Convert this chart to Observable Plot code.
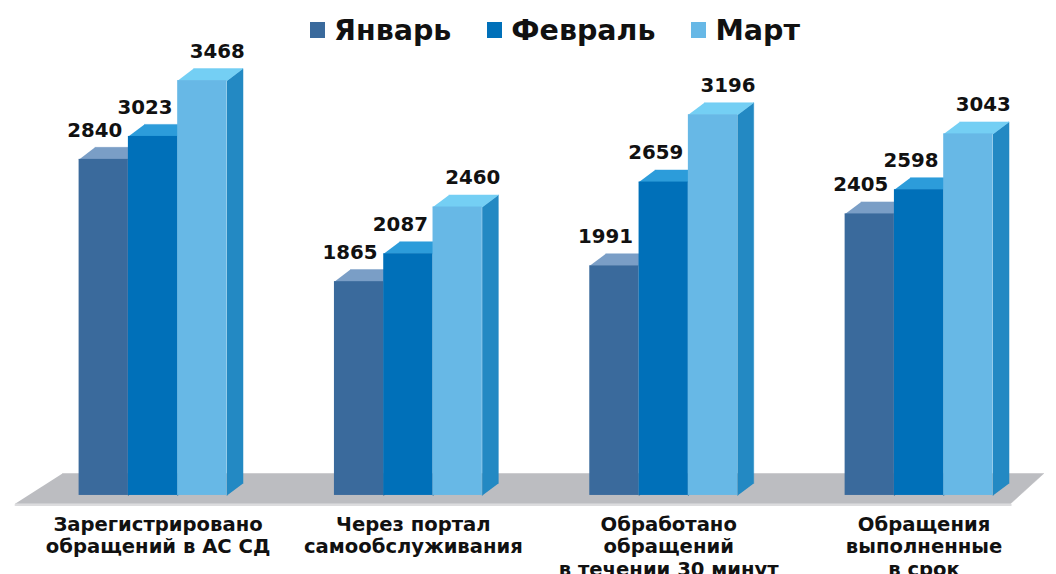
<!DOCTYPE html>
<html>
<head>
<meta charset="utf-8">
<script src="https://cdn.jsdelivr.net/npm/d3@7"></script>
<script src="https://cdn.jsdelivr.net/npm/@observablehq/plot@0.6"></script>
<style>
  html, body { margin: 0; padding: 0; background: #fff; overflow: hidden; }
  body { width: 1056px; height: 574px; font-family: "DejaVu Sans", Verdana, sans-serif; }
  #legend { height: 60px; display: flex; justify-content: center; align-items: center; padding-left: 54px; box-sizing: border-box; }
  .item { display: flex; align-items: center; margin: 0 18px; font-size: 28.5px; font-weight: bold; color: #111; }
  .sw { width: 15px; height: 16px; margin-right: 9px; }
</style>
</head>
<body>
<div id="legend"></div>
<div id="chart"></div>
<script>
// ---- data ----
const categories = [
  "Зарегистрировано\nобращений в АС СД",
  "Через портал\nсамообслуживания",
  "Обработано\nобращений\nв течении 30 минут",
  "Обращения\nвыполненные\nв срок"
];
const seriesNames = ["Январь", "Февраль", "Март"];
const january = [2840, 1865, 1991, 2405];
const february = [3023, 2087, 2659, 2598];
const march = [3468, 2460, 3196, 3043];
const seriesValues = [january, february, march];

// ---- styles ----
const frontColors = ["#3a6a9c", "#0070b9", "#67b8e6"];
const topColors = ["#7a9ec6", "#2c9cda", "#74cff4"];
const sideColors = ["#2f5883", "#005f9e", "#2389c3"];
const legendColors = ["#3a6a9c", "#0070b9", "#67b8e6"];
const labelDx = [-9, -8, 15];
const G = 5.18;        // group step (in bar widths)
const base = 160;      // floor level (value units)
const depthX = 0.325;  // 3D depth in bar widths
const depthY = 96;     // 3D depth in value units
const floorBack = 335, floorFront = 96;
const floorX = {frontLeft: -1.29, backLeft: -0.337, backRight: 19.57, frontRight: 18.9};

// legend
const legend = document.getElementById("legend");
seriesNames.forEach((name, i) => {
  const it = document.createElement("div");
  it.className = "item";
  const sw = document.createElement("span");
  sw.className = "sw";
  sw.style.background = legendColors[i];
  it.appendChild(sw);
  it.appendChild(document.createTextNode(name));
  legend.appendChild(it);
});

// table
const bars = [];
categories.forEach((c, g) => seriesValues.forEach((vals, s) => {
  bars.push({g, s, v: vals[g], x1: g * G + s, x2: g * G + s + 1, id: g * 3 + s});
}));
const topPts = bars.flatMap(b => [[b.x1, b.v], [b.x2, b.v], [b.x2 + depthX, b.v + depthY], [b.x1 + depthX, b.v + depthY]]
  .map(([x, y]) => ({x, y, id: b.id, s: b.s})));
const sidePts = bars.flatMap(b => [[b.x2, base], [b.x2, b.v], [b.x2 + depthX, b.v + depthY], [b.x2 + depthX, base + depthY]]
  .map(([x, y]) => ({x, y, id: b.id, s: b.s})));
const floorPts = [
  {x: floorX.backLeft, y: floorBack}, {x: floorX.backRight, y: floorBack},
  {x: floorX.frontRight, y: floorFront}, {x: floorX.frontLeft, y: floorFront}
];
const floorEdge = [{x: floorX.frontLeft, y: floorFront}, {x: floorX.frontRight, y: floorFront}];

const marks = [
  Plot.line(floorPts, {x: "x", y: "y", fill: "#bcbdc1", stroke: "#bcbdc1", strokeWidth: 0.5}),
  Plot.line(floorEdge, {x: "x", y: "y", stroke: "#dcdcde", strokeWidth: 2, dy: 1.5})
];
[0, 1, 2].forEach(s => marks.push(Plot.line(sidePts.filter(d => d.s === s), {x: "x", y: "y", z: "id", fill: sideColors[s], stroke: sideColors[s], strokeWidth: 0.5})));
[0, 1, 2].forEach(s => marks.push(Plot.line(topPts.filter(d => d.s === s), {x: "x", y: "y", z: "id", fill: topColors[s], stroke: topColors[s], strokeWidth: 0.5})));
[0, 1, 2].forEach(s => marks.push(Plot.rect(bars.filter(d => d.s === s), {x1: "x1", x2: "x2", y1: base, y2: "v", fill: frontColors[s]})));
[0, 1, 2].forEach(s => marks.push(Plot.text(bars.filter(d => d.s === s), {
  x: d => d.x1 + 0.5, y: "v", text: d => String(d.v), dx: labelDx[s], dy: -29,
  fontSize: 19.8, fontWeight: "bold", fill: "#111"
})));
marks.push(Plot.text(categories, {
  x: (d, i) => i * G + 1.5, frameAnchor: "bottom", lineAnchor: "top", text: d => d,
  dx: 5, dy: -1, fontSize: 19.6, fontWeight: "bold", lineHeight: 1.15, fill: "#111"
}));

const chart = Plot.plot({
  width: 1056,
  height: 514,
  marginTop: 4, marginBottom: 59, marginLeft: 0, marginRight: 0,
  x: {domain: [0, 3 * G + 3], range: [78.6, 992.5], axis: null},
  y: {domain: [0, 3600], range: [455, 3.6], axis: null},
  style: {fontFamily: "'DejaVu Sans', Verdana, sans-serif", background: "#fff", overflow: "visible"},
  marks
});
document.getElementById("chart").appendChild(chart);
</script>
</body>
</html>
